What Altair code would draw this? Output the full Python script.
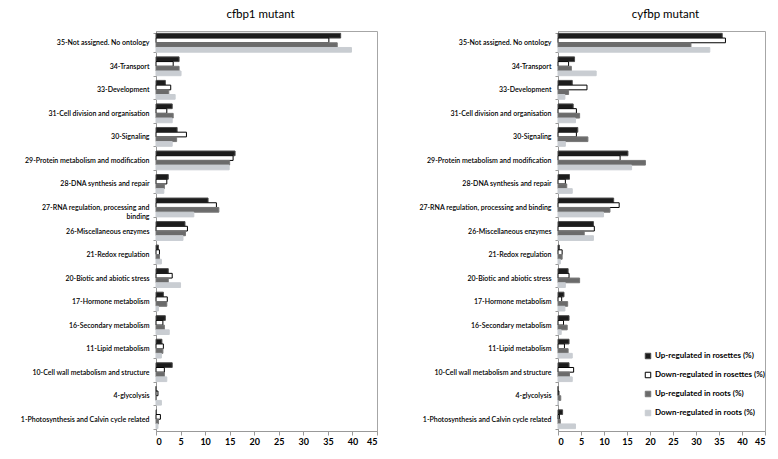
import altair as alt
import pandas as pd

categories = [
    "35-Not assigned. No ontology",
    "34-Transport",
    "33-Development",
    "31-Cell division and organisation",
    "30-Signaling",
    "29-Protein metabolism and modification",
    "28-DNA synthesis and repair",
    "27-RNA regulation, processing and binding",
    "26-Miscellaneous enzymes",
    "21-Redox regulation",
    "20-Biotic and abiotic stress",
    "17-Hormone metabolism",
    "16-Secondary metabolism",
    "11-Lipid metabolism",
    "10-Cell wall metabolism and structure",
    "4-glycolysis",
    "1-Photosynthesis and Calvin cycle related",
]
series = [
    "Up-regulated in rosettes (%)",
    "Down-regulated in rosettes (%)",
    "Up-regulated in roots (%)",
    "Down-regulated in roots (%)",
]

# cfbp1 mutant
cfbp1_up_rosettes = [37.6, 4.7, 1.9, 3.3, 4.3, 16.1, 2.5, 10.6, 5.9, 0.5, 2.5, 1.5, 1.9, 1.2, 3.3, 0.0, 0.1]
cfbp1_down_rosettes = [35.2, 3.5, 3.0, 2.2, 6.2, 15.7, 2.2, 12.3, 6.4, 0.7, 3.3, 2.3, 1.4, 1.5, 1.7, 0.4, 0.9]
cfbp1_up_roots = [36.9, 4.7, 2.6, 3.5, 4.2, 15.0, 1.7, 12.8, 6.0, 0.7, 2.5, 2.2, 1.7, 1.4, 1.7, 0.0, 0.5]
cfbp1_down_roots = [39.8, 5.1, 3.9, 3.3, 3.3, 14.9, 1.6, 7.7, 5.5, 1.1, 5.0, 0.5, 2.7, 1.1, 2.2, 1.1, 0.4]

# cyfbp mutant
cyfbp_up_rosettes = [35.7, 3.6, 3.1, 3.3, 4.3, 15.2, 2.5, 12.1, 7.7, 0.3, 2.2, 1.3, 2.4, 2.4, 2.4, 0.0, 1.0]
cyfbp_down_rosettes = [36.4, 2.3, 6.3, 4.0, 4.0, 13.5, 1.6, 13.3, 7.9, 0.9, 2.4, 0.8, 1.2, 1.4, 3.4, 0.2, 0.3]
cyfbp_up_roots = [28.9, 2.9, 2.3, 4.7, 6.5, 19.0, 1.9, 11.3, 5.7, 0.9, 4.7, 2.1, 2.0, 2.2, 2.5, 0.6, 0.5]
cyfbp_down_roots = [33.0, 8.3, 1.5, 3.8, 1.6, 16.0, 3.1, 9.9, 7.7, 0.5, 1.6, 1.5, 0.7, 3.1, 3.1, 0.0, 3.8]

x_ticks = [0, 5, 10, 15, 20, 25, 30, 35, 40, 45]


def long_df(cols):
    rows = []
    for s, vals in zip(series, cols):
        for c, v in zip(categories, vals):
            rows.append({"category": c, "series": s, "value": v})
    return pd.DataFrame(rows)


df_left = long_df([cfbp1_up_rosettes, cfbp1_down_rosettes, cfbp1_up_roots, cfbp1_down_roots])
df_right = long_df([cyfbp_up_rosettes, cyfbp_down_rosettes, cyfbp_up_roots, cyfbp_down_roots])

FONT = "Lato"
fill_scale = alt.Scale(domain=series, range=["#1c1c1c", "#ffffff", "#6b6b6b", "#c9cdd2"])
stroke_scale = alt.Scale(domain=series, range=["#4a4a4a", "#000000", "#777777", "#c9cdd2"])

leg = alt.Legend(
    title=None, orient="none", legendX=488, legendY=321,
    symbolType="square", symbolSize=30, labelFontSize=8, labelFont=FONT,
    labelFontWeight="bold", labelColor="#000000", rowPadding=9,
    symbolStrokeWidth=1, labelOffset=3, labelLimit=200,
)


def panel(df, title, extent, width, wrap, dx):
    label_expr = (
        "datum.label == '27-RNA regulation, processing and binding' ? "
        "['27-RNA regulation, processing and', 'binding'] : datum.label"
        if wrap else "datum.label"
    )
    return alt.Chart(df).mark_bar(strokeWidth=1).encode(
        y=alt.Y(
            "category:N", sort=categories, title=None,
            scale=alt.Scale(paddingInner=0.2, paddingOuter=0.1),
            axis=alt.Axis(
                labelExpr=label_expr, labelFont=FONT, labelFontSize=7,
                labelFontWeight=600, labelColor="#000000", labelLimit=160,
                tickBand="extent", tickSize=3, tickColor="#999999",
                domainColor="#999999", labelPadding=4,
                minExtent=extent, maxExtent=extent,
            ),
        ),
        yOffset=alt.YOffset("series:N", sort=series, scale=alt.Scale(paddingInner=0, paddingOuter=0)),
        x=alt.X(
            "value:Q", title=None,
            scale=alt.Scale(domain=[0, 45], nice=False),
            axis=alt.Axis(
                values=x_ticks, grid=False, labelFont=FONT, labelFontSize=9,
                labelFontWeight="bold", labelColor="#000000",
                tickColor="#999999", domainColor="#999999", tickSize=4,
            ),
        ),
        fill=alt.Fill("series:N", scale=fill_scale, sort=series, legend=leg),
        stroke=alt.Stroke("series:N", scale=stroke_scale, sort=series, legend=leg),
    ).properties(
        width=width, height=400,
        title=alt.TitleParams(title, font=FONT, fontSize=11.5, fontWeight="normal",
                              color="#000000", offset=7, dx=dx),
    )


left = panel(df_left, "cfbp1 mutant", 147, 221, True, -6)
right = panel(df_right, "cyfbp mutant", 137, 207, False, 4)

chart = alt.hconcat(left, right, spacing=40).properties(
    padding={"left": 0, "top": 0, "right": 0, "bottom": 0}
).configure_view(stroke="#a6a6a6", strokeWidth=1)

chart.save("out.html", embed_options={"renderer": "svg", "actions": False})
